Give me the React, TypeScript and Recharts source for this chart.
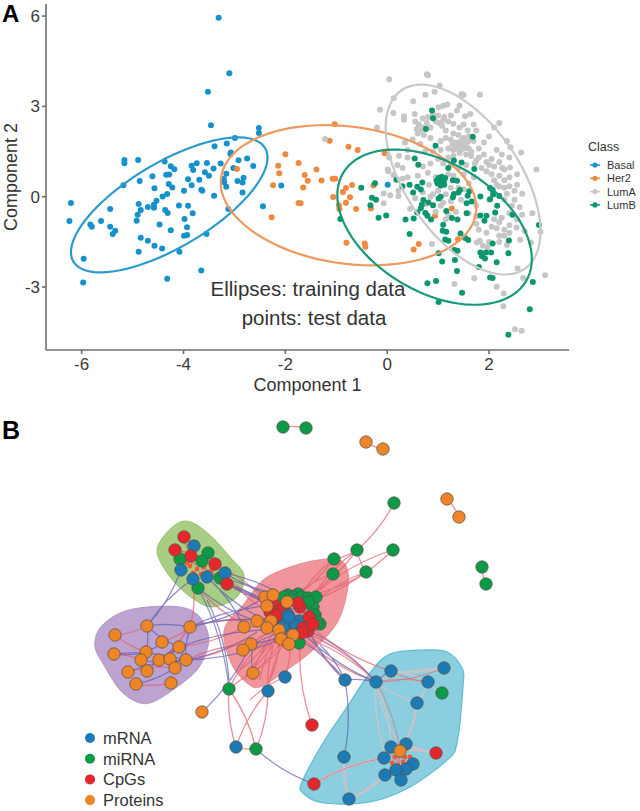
import React from 'react';
import { ScatterChart, Scatter, XAxis, YAxis } from 'recharts';

type P = number[];
const FONT = '"Liberation Sans", Arial, sans-serif';

const xTicks = [-6, -4, -2, 0, 2];
const yTicks = [-3, 0, 3, 6];
const classNames = ['Basal', 'Her2', 'LumA', 'LumB'];
const classColors = ['#1592cc', '#ee8a3f', '#c6c6c6', '#0b9670'];
const ellipseColors = ['#2a9bcd', '#ee9a5e', '#c9c9c9', '#17997a'];

const basal: P[] = [[-3.31,5.94],[-3.1,4.1],[-3.52,3.49],[-3.46,2.37],[-2.52,2.28],[-2.52,2.12],[-2.99,1.95],[-3.15,1.77],[-3.39,1.68],[-3.07,1.47],[-3.08,1.42],[-2.75,1.27],[-2.92,1.21],[-5.16,1.22],[-5.16,1.11],[-4.89,1.22],[-4.37,1.17],[-4.25,1.01],[-4.18,.91],[-3.84,1.03],[-3.81,.89],[-3.74,1.11],[-3.54,1.12],[-3.27,1.1],[-3.41,.94],[-3.58,.81],[-3.5,.7],[-3.69,.56],[-3.91,.58],[-3.84,.38],[-3.65,.23],[-3.63,.2],[-3.99,.2],[-2.63,1.02],[-3.02,.95],[-3.16,.76],[-3.21,.59],[-3.2,.48],[-3.16,.33],[-2.94,.52],[-2.82,.63],[-2.84,.47],[-2.84,.14],[-3.4,.03],[-2.08,.37],[-2.44,-.32],[-3.12,-.41],[-4.34,.73],[-4.28,.74],[-4.86,.52],[-5.18,.38],[-4.61,.68],[-4.57,.28],[-4.29,.42],[-4.22,.31],[-4.32,.09],[-4.41,.01],[-4.53,-.13],[-4.58,-.27],[-4.58,-.37],[-4.7,-.34],[-4.88,-.24],[-4.84,-.44],[-4.9,-.6],[-4.92,-.8],[-4.36,-.44],[-4.31,-.54],[-4.09,-.29],[-3.91,-.3],[-3.82,-.55],[-3.98,-.74],[-4.47,-.92],[-4.25,-1.11],[-3.93,-1.01],[-3.99,-1.3],[-3.93,-1.27],[-3.55,-1.24],[-4.84,-1.36],[-4.7,-1.46],[-4.57,-1.63],[-4.42,-1.72],[-4.88,-1.83],[-4.08,-1.83],[-5.96,-2.06],[-5.97,-2.85],[-4.32,-2.72],[-3.65,-2.45],[-6.21,-.21],[-6.24,-.81],[-5.44,-.41],[-5.62,-.81],[-5.83,-.92],[-5.8,-1],[-5.44,-1],[-5.34,-1.13],[-5.39,-1.24],[.01,.4]];
const her2: P[] = [[-2.95,.92],[-2.14,1.03],[-2,1.41],[-1.74,1.12],[-2.12,.78],[-2.24,.38],[-1.74,-.21],[-2.27,-.68],[-1.03,2.41],[-1.13,1.86],[-.76,1.66],[-.58,1.55],[-.05,1.44],[-1.39,.9],[-1.62,.72],[-1.56,.53],[-1.29,.54],[-1.07,.6],[-1.02,.6],[-1.65,.31],[-.69,.39],[-.81,.29],[-.87,.16],[-.27,.37],[-1.06,-.01],[-.73,-.02],[-.81,-.2],[-.95,-.28],[-.94,-.41],[-.61,-.41],[-.32,-.39],[-1.7,-.22],[1.27,-.39],[.94,-.63],[-.8,-1.53],[-.44,-1.55],[-.43,-1.66],[.62,-1.57],[.52,-1.75],[1.39,-1.41]];
const lumA: P[] = [[.78,4.07],[.8,4.03],[.04,3.9],[1.03,3.69],[.93,3.49],[.75,3.39],[1.46,3.41],[1.5,3.38],[1.82,3.39],[.13,3.27],[.51,3.17],[-.14,2.89],[.12,2.78],[.33,2.67],[.33,2.56],[.54,2.75],[1.01,2.97],[1.1,3.02],[1.18,3.06],[1.42,3.02],[1.37,2.86],[1.63,2.75],[1.53,2.67],[.7,2.6],[.62,2.4],[.58,2.25],[.6,2.1],[.72,2.05],[.85,2.3],[.95,2.5],[1.02,2.45],[1.08,2.35],[1.15,2.2],[1.2,2.5],[1.3,2.42],[1.42,2.3],[1.5,2.4],[1.58,2.2],[1.7,2.4],[1.75,2.2],[1.3,2.1],[1.4,2.05],[1.5,1.95],[1.45,1.85],[1.55,1.8],[1.35,1.8],[1.25,1.9],[1.15,1.95],[1.05,1.85],[.85,1.95],[.5,1.9],[.35,1.8],[.65,1.75],[.4,1.55],[.75,1.5],[.9,1.5],[1.05,1.55],[1.2,1.6],[1.3,1.55],[1.4,1.65],[1.5,1.6],[1.6,1.6],[1.42,1.45],[1.55,1.4],[1.65,1.5],[1.8,1.6],[1.9,1.8],[2,2],[2.1,2.3],[2.2,2.45],[2.35,1.85],[2.63,1.47],[2.42,1.64],[2.4,1.3],[2.25,1.4],[2.15,1.55],[2.05,1.25],[2,1.05],[1.95,.85],[2.05,.75],[1.9,1.4],[1.75,1.2],[1.85,.95],[1.7,.65],[1.55,1.05],[1.4,.95],[1,1.25],[.85,1.1],[.7,1],[.4,1.3],[.2,1.05],[.04,1.3],[.3,.95],[.02,.85],[.12,.72],[2.26,.95],[2.41,.97],[2.55,.75],[2.4,.65],[2.3,.55],[2.2,.7],[2.93,.9],[.95,.65],[.82,.4],[.7,.15],[.55,-.05],[-.07,.11],[-.07,-.22],[.22,.2],[.06,.05],[.22,.02],[1,.2],[.9,.08],[1.15,.08],[1.25,-.15],[1.45,-.1],[1.05,-.3],[.95,-.5],[1.15,-.75],[1.35,-.5],[1.75,-.3],[1.75,-.9],[2,-.1],[2.2,.35],[2.35,.1],[2.5,.2],[2.25,-.7],[2.4,-.55],[2.6,-.35],[2.1,-.75],[2.2,-.85],[2.3,-1.1],[2.15,-1.05],[2.05,-1],[1.8,-1.1],[1.95,-1.2],[2.3,-1.3],[2.4,-1.2],[2.54,-1.02],[2.7,-1.15],[2.85,-.55],[3.01,-1.16],[2.82,-1.52],[2.61,-1.43],[1.82,-1.46],[1.76,-1.52],[1.88,-1.63],[1.97,-1.68],[.88,-1.57],[1.71,-2.71],[1.32,-2.9],[2.15,-2.99],[2.29,-3.21],[2.28,-3.64],[2.56,-2.38],[2.67,-2.7],[3.1,-2.61],[2.51,-4.4],[2.64,-4.45],[-.2,2.3],[-1.22,1.92],[.23,1.36],[.01,.9],[1.42,1.75],[1.48,1.7],[1.38,1.7],[1.5,1.75],[1.35,1.6],[1.45,1.55],[1.28,1.75],[1.55,1.7],[1.6,1.85],[1.3,1.35],[1.2,1.3],[1.1,1.1],[1.25,1.05],[.55,2.5],[.8,2.65],[.9,2.75],[1,2.7],[1.12,2.65],[1.25,2.7],[1.1,2.55],[.65,2.2],[.72,2.3],[.78,2.45],[1.6,2],[1.7,1.85],[1.65,1.35],[1.72,1.1],[1.8,1.3],[1.95,1.15],[2.1,1],[2.2,1.15],[2.3,.9],[2.1,.55],[2.15,.4],[2.3,.3],[2.4,.35],[2.55,.4],[2.65,.1],[2.3,-.1],[2.5,-.1],[2.45,-.3],[2.65,-.6],[2.55,-.75],[2.4,-.95],[2.2,-1.3],[2.2,-1.5],[2.35,-1.6],[2,-1.5],[1.4,.3],[1.5,.25],[1.6,.45],[1.25,.3],[.8,.8],[.6,.7],[.4,.65],[.3,.6],[1.2,.75],[1.3,.7],[1.5,.75],[1.6,-.55],[1.75,-.65],[1.1,-.2],[1.2,-.6],[.85,0],[.75,-.25],[.45,-.4]];
const lumB: P[] = [[.88,2.86],[.9,2.61],[.76,2.25],[1.68,1.99],[.95,1.69],[.54,1.27],[.61,1.06],[1.31,1.2],[1.46,1.14],[1.2,.95],[1.71,.92],[1.01,.62],[1.07,.66],[1.14,.62],[.97,.53],[1.03,.48],[1.11,.51],[1.05,.37],[.99,.44],[1.12,.4],[1.29,.55],[1.37,.53],[-.24,.45],[-.51,.3],[.18,.56],[.3,.35],[.44,.4],[.59,.33],[.69,.47],[.66,.24],[.51,.14],[-.3,-.03],[-.22,-.1],[-.33,-.28],[-.17,-.7],[-.02,-.62],[-.92,-.74],[.36,-.76],[.52,-.72],[.71,-.11],[.68,-.27],[.66,-.38],[.59,-.52],[.81,-.19],[.9,-.28],[.75,-.54],[.79,-.63],[.86,-.76],[1.05,0],[1.01,-.06],[1.16,-.47],[1.29,-.02],[1.31,.09],[1.43,.22],[1.4,.14],[1.61,.18],[1.58,.03],[1.66,-.16],[1.56,-.22],[1.56,-.55],[1.27,-.71],[1.38,-.76],[1.83,.01],[2.02,.29],[2.07,.22],[2.2,.02],[2.02,-.08],[2.08,.07],[2.16,-.3],[2.12,-.52],[1.83,-.62],[1.95,-.63],[1.91,-.8],[2.46,-.6],[2.98,-.94],[1.1,-.93],[1.09,-1.13],[1.16,-1.16],[.44,-1.24],[1.44,-1.22],[1.14,-1.42],[1.2,-1.46],[1.53,-1.37],[1.59,-1.44],[1.32,-1.77],[1.38,-1.79],[1.01,-1.88],[1.08,-2.15],[1.33,-2.1],[2.07,-1.55],[2.39,-1.45],[1.83,-1.85],[1.86,-1.98],[1.94,-1.85],[2.04,-1.85],[1.92,-2.05],[2.38,-1.88],[2.15,-2.18],[1.8,-2.33],[1.37,-2.47],[2.02,-2.68],[2.07,-2.7],[.79,-2.87],[.96,-2.8],[1.47,-3.19],[1.01,-3.5],[2.86,-2.83],[2.8,-3.74],[2.38,-4.58]];

// each ellipse: centre, its rightmost point, and the point straight above its centre
const basalEllipse: P[] = [[-4.28,-.27],[-2.35,1.3],[-4.28,1.33]];
const her2Ellipse: P[] = [[-.76,.05],[1.75,-.37],[-.76,2.34]];
const lumAEllipse: P[] = [[1.49,.57],[3.01,-1.14],[1.49,3.22]];
const lumBEllipse: P[] = [[.93,-1.01],[2.84,-2.07],[.93,1.34]];

const moduleGreen: P[] = [[185,521],[197,525],[213,538],[230,557],[244,575],[237,597],[213,607],[195,600],[177,585],[162,565],[157,550],[163,537],[175,525]];
const modulePurple: P[] = [[147,607],[180,607],[198,615],[208,633],[207,650],[197,670],[177,687],[153,702],[137,702],[120,690],[105,667],[95,647],[100,628],[120,613]];
const moduleRed: P[] = [[318,560],[340,560],[348,572],[347,593],[337,623],[313,650],[287,670],[260,687],[247,683],[233,667],[224,640],[227,623],[243,605],[263,580],[290,567]];
const moduleBlue: P[] = [[390,654],[423,650],[447,652],[462,668],[463,687],[457,743],[447,760],[410,787],[370,802],[323,803],[303,793],[302,782],[323,743],[347,707],[370,673]];

const mrnaNodes: P[] = [[194,546],[181,570],[193,579],[207,577],[225,573],[288,615],[293,622],[287,621],[299,621],[292,627],[283,627],[289,617],[296,626],[285,677],[268,691],[345,680],[376,682],[391,671],[444,668],[428,682],[417,703],[236,747],[344,757],[349,799],[406,744],[391,747],[384,758],[413,764],[406,769],[396,770],[385,775],[401,780]];
const mirnaNodes: P[] = [[283,427],[306,428],[394,503],[357,550],[393,550],[334,559],[333,574],[366,572],[482,567],[486,584],[208,553],[180,559],[202,561],[220,578],[198,588],[288,595],[298,594],[293,597],[302,597],[308,598],[316,597],[313,607],[308,602],[315,615],[320,624],[299,643],[284,597],[292,600],[317,622],[229,689],[442,693],[256,749]];
const cpgUnderNodes: P[] = [[273,603],[278,612],[270,612],[280,620],[277,615],[284,607],[300,607]];
const cpgOverNodes: P[] = [[184,537],[175,550],[191,556],[215,564],[227,584],[298,603],[309,617],[308,631],[303,628],[313,624],[302,633],[312,725],[314,784],[436,753]];
const proteinNodes: P[] = [[366,442],[383,449],[447,499],[459,517],[147,626],[190,627],[115,635],[162,642],[179,647],[114,654],[146,652],[141,660],[159,660],[170,659],[186,660],[175,668],[147,671],[128,672],[136,684],[171,683],[265,597],[273,595],[267,606],[287,602],[257,621],[271,621],[244,627],[267,628],[279,630],[293,635],[281,639],[289,644],[251,644],[243,650],[253,673],[202,712],[400,751]];
const tinyNodes: P[] = [[190,566],[197,569],[204,567],[212,570],[193,573],[201,574],[209,572],[187,563],[395,757],[405,757],[392,763],[403,762],[410,757],[398,765]];

const pinkEdges: P[] = [[283,427,306,428],[366,442,383,449],[447,499,459,517],[482,567,486,584],[394,503,357,550],[357,550,310,600],[357,550,305,598],[393,550,320,590],[393,550,315,600],[334,559,300,596],[334,559,290,600],[333,574,295,595],[333,574,305,600],[366,572,318,600],[366,572,310,595],[357,550,366,572],[357,550,334,559],[229,689,236,747],[229,689,256,749],[268,691,236,747],[268,691,256,749],[285,677,250,700],[312,725,300,643],[236,747,256,749],[345,680,310,635],[376,682,312,635],[391,671,315,630],[376,682,320,640],[312,640,376,682],[305,640,376,682],[268,691,285,640],[285,677,290,645],[268,691,275,640],[253,673,285,635],[253,673,270,640],[253,673,295,630],[229,689,265,640],[229,689,280,635],[245,680,285,630],[240,670,275,630],[260,680,278,632],[270,680,280,635],[243,650,285,625],[243,650,290,630],[251,644,290,625],[244,627,280,620],[257,621,285,615],[227,584,265,600],[220,578,270,610],[225,573,265,610],[215,564,270,605],[198,588,245,625],[193,579,190,627],[115,635,147,626],[114,654,141,660],[115,635,146,652],[128,672,175,668],[136,684,171,683],[147,671,179,647],[159,660,190,627],[170,659,190,627],[186,660,245,640],[186,660,250,644],[179,647,244,627],[190,627,250,620],[162,642,190,627],[146,652,115,635],[184,537,191,556],[175,550,215,564],[194,546,207,577],[180,559,220,578],[202,561,193,579]];
const violetEdges: P[] = [[181,570,147,626],[193,579,147,626],[198,588,229,689],[202,712,251,644],[207,600,229,680],[227,584,300,610],[225,573,290,600],[220,578,285,605],[227,584,285,615],[225,573,280,595],[220,578,275,600],[207,577,265,620],[207,577,243,625],[198,588,267,625],[190,627,267,606],[190,627,265,597],[190,627,271,621],[186,660,281,639],[179,647,289,630],[186,660,257,632],[147,626,190,627],[147,626,179,647],[147,626,146,652],[114,654,146,652],[114,654,186,660],[141,660,186,660],[128,672,186,660],[136,684,175,668],[147,671,179,647],[159,660,179,647],[190,627,175,668],[190,627,186,660],[162,642,146,652],[251,644,295,630],[243,650,293,630],[251,644,289,632],[253,673,253,644],[345,680,300,640],[345,680,310,632],[345,680,320,645],[376,682,305,635],[376,682,312,632],[345,680,344,757],[376,682,345,680],[376,682,391,671],[256,749,314,784]];
const greyThickEdges: P[] = [[417,703,406,740],[406,744,436,753],[400,751,436,753],[384,758,314,784],[385,775,349,799],[344,757,349,799]];
const greyThinEdges: P[] = [[376,682,444,668],[391,671,444,668],[376,682,428,682],[376,682,417,703],[391,671,428,682],[376,682,384,750],[376,682,391,745],[376,682,400,745],[428,682,417,703],[428,682,442,693]];
const finePinkEdges: P[] = [[376,682,400,751],[391,671,428,682],[384,758,406,744],[385,775,413,764],[396,770,406,744],[391,747,401,780],[413,764,391,747],[400,751,396,770],[400,751,385,775],[400,751,406,769],[400,751,413,764],[400,751,401,780],[314,784,384,758],[376,682,444,668],[376,682,428,682]];

const legendB = [
  { name: 'mRNA', color: '#1c7ab5' },
  { name: 'miRNA', color: '#0c9a46' },
  { name: 'CpGs', color: '#e5262d' },
  { name: 'Proteins', color: '#ee8526' },
];

const toXY = (rows: P[]) => rows.map(([x, y]) => ({ x, y }));
const edgeXY = (rows: P[]) => rows.flatMap(([a, b, c, d]) => [{ x: a, y: b }, { x: c, y: d }]);

function closedPath(pts: { x: number; y: number }[]) {
  const n = pts.length;
  if (!n) return '';
  let d = `M${pts[0].x},${pts[0].y}`;
  for (let i = 0; i < n; i++) {
    const p0 = pts[(i - 1 + n) % n], p1 = pts[i], p2 = pts[(i + 1) % n], p3 = pts[(i + 2) % n];
    d += `C${p1.x + (p2.x - p0.x) / 6},${p1.y + (p2.y - p0.y) / 6} ${p2.x - (p3.x - p1.x) / 6},${p2.y - (p3.y - p1.y) / 6} ${p2.x},${p2.y}`;
  }
  return d + 'Z';
}

const blob = (fill: string, stroke: string, fillOpacity: number, width: number) => (props: any) => (
  <path d={closedPath(props.points || [])} fill={fill} fillOpacity={fillOpacity} stroke={stroke} strokeWidth={width} />
);

const ellipseLine = (stroke: string) => (props: any) => {
  const pts = props.points || [];
  if (pts.length < 3) return <g />;
  const [c, r, v] = pts;
  let d = '';
  for (let k = 0; k <= 90; k++) {
    const t = (k / 90) * 2 * Math.PI;
    const x = c.x + (r.x - c.x) * Math.cos(t) + (v.x - c.x) * Math.sin(t);
    const y = c.y + (r.y - c.y) * Math.cos(t) + (v.y - c.y) * Math.sin(t);
    d += `${k ? 'L' : 'M'}${x},${y}`;
  }
  return <path d={d + 'Z'} fill="none" stroke={stroke} strokeWidth={2.2} />;
};

const curves = (stroke: string, width: number, opacity: number) => (props: any) => {
  const pts = props.points || [];
  let d = '';
  for (let i = 0; i + 1 < pts.length; i += 2) {
    const a = pts[i], b = pts[i + 1];
    const sign = (i / 2) % 2 ? 1 : -1;
    const mx = (a.x + b.x) / 2 - (b.y - a.y) * 0.1 * sign;
    const my = (a.y + b.y) / 2 + (b.x - a.x) * 0.1 * sign;
    d += `M${a.x},${a.y}Q${mx},${my} ${b.x},${b.y}`;
  }
  return <path d={d} fill="none" stroke={stroke} strokeWidth={width} strokeOpacity={opacity} />;
};

const nothing = () => <g />;
const dot = (color: string, r: number) => (props: any) => <circle cx={props.cx} cy={props.cy} r={r} fill={color} />;
const node = (color: string, r: number) => (props: any) => (
  <circle cx={props.cx} cy={props.cy} r={r} fill={color} stroke="#55504a" strokeOpacity={0.75} strokeWidth={1} />
);

const textStyle = { fontFamily: FONT, fill: '#333333' };

export default function App() {
  const pointSets = [basal, her2, lumA, lumB];
  const ellipses = [basalEllipse, her2Ellipse, lumAEllipse, lumBEllipse];
  const axisTick = { fontFamily: FONT, fontSize: 17, fill: '#3a3a3a' };
  const axisLine = { stroke: '#6e6e6e', strokeWidth: 1.6 };
  return (
    <div style={{ position: 'absolute', left: 0, top: 0, width: 640, height: 811, background: '#fff', overflow: 'hidden' }}>
      <div style={{ position: 'absolute', left: 0, top: 0 }}>
        <ScatterChart width={640} height={400} margin={{ top: 4, right: 71, bottom: 0, left: 0 }}>
          <XAxis type="number" dataKey="x" domain={[-6.7, 3.57]} ticks={xTicks} height={50} tick={axisTick} tickSize={4}
            tickMargin={4} axisLine={axisLine} tickLine={axisLine}
            label={{ value: 'Component 1', position: 'insideBottom', offset: 9, style: { fontFamily: FONT, fontSize: 18, fill: '#333' } }} />
          <YAxis type="number" dataKey="y" domain={[-5.09, 6.4]} ticks={yTicks} width={46} tick={axisTick} tickSize={4}
            tickMargin={2} axisLine={axisLine} tickLine={axisLine}
            label={{ value: 'Component 2', angle: -90, position: 'insideLeft', offset: 11, style: { fontFamily: FONT, fontSize: 18, fill: '#333', textAnchor: 'middle' } }} />
          {pointSets.map((set, i) => (
            <Scatter key={classNames[i]} name={classNames[i]} data={toXY(set)} isAnimationActive={false} shape={dot(classColors[i], 3)} />
          ))}
          {ellipses.map((set, i) => (
            <Scatter key={classNames[i] + ' ellipse'} data={toXY(set)} isAnimationActive={false} shape={nothing}
              line={ellipseLine(ellipseColors[i])} />
          ))}
          <text x={308} y={296} textAnchor="middle" fontSize={20.5} style={textStyle}>Ellipses: training data</text>
          <text x={314} y={325} textAnchor="middle" fontSize={20.5} style={textStyle}>points: test data</text>
          <text x={2} y={22} fontSize={24} fontWeight="bold" style={{ fontFamily: FONT, fill: '#000' }}>A</text>
          <text x={588} y={151} fontSize={12.5} style={textStyle}>Class</text>
          {classNames.map((name, i) => (
            <g key={name}>
              <line x1={590} x2={600} y1={165 + i * 13.3} y2={165 + i * 13.3} stroke={classColors[i]} strokeWidth={1.5} />
              <circle cx={595} cy={165 + i * 13.3} r={2.6} fill={classColors[i]} />
              <text x={607} y={169 + i * 13.3} fontSize={11} style={textStyle}>{name}</text>
            </g>
          ))}
        </ScatterChart>
      </div>
      <div style={{ position: 'absolute', left: 0, top: 400 }}>
        <ScatterChart width={640} height={411} margin={{ top: 0, right: 0, bottom: 0, left: 0 }}>
          <XAxis type="number" dataKey="x" domain={[0, 640]} hide />
          <YAxis type="number" dataKey="y" domain={[400, 811]} reversed hide />
          <Scatter data={toXY(moduleGreen)} isAnimationActive={false} shape={nothing} line={blob('#a2cb7c', '#8cba60', 0.95, 0.8)} />
          <Scatter data={toXY(modulePurple)} isAnimationActive={false} shape={nothing} line={blob('#b99fcd', '#a88cc0', 0.95, 0.8)} />
          <Scatter data={toXY(moduleRed)} isAnimationActive={false} shape={nothing} line={blob('#ee8f96', '#e77f88', 0.95, 0.8)} />
          <Scatter data={toXY(moduleBlue)} isAnimationActive={false} shape={nothing} line={blob('#84cbdd', '#5fbcd3', 0.95, 1.2)} />
          <Scatter data={edgeXY(greyThickEdges)} isAnimationActive={false} shape={nothing} line={curves('#c9c2c6', 2.6, 1)} />
          <Scatter data={edgeXY(greyThinEdges)} isAnimationActive={false} shape={nothing} line={curves('#cbc4c8', 1.4, 1)} />
          <Scatter data={edgeXY(pinkEdges)} isAnimationActive={false} shape={nothing} line={curves('#e4606e', 1.3, 0.7)} />
          <Scatter data={edgeXY(violetEdges)} isAnimationActive={false} shape={nothing} line={curves('#5c5cb4', 1.2, 0.7)} />
          <Scatter data={edgeXY(finePinkEdges)} isAnimationActive={false} shape={nothing} line={curves('#e8606c', 0.8, 0.8)} />
          <Scatter data={toXY(tinyNodes)} isAnimationActive={false} shape={dot('#ee5a3a', 2.4)} />
          <Scatter name="miRNA" data={toXY(mirnaNodes)} isAnimationActive={false} shape={node('#0c9a46', 6.2)} />
          <Scatter name="CpGs" data={toXY(cpgUnderNodes)} isAnimationActive={false} shape={node('#e5262d', 6.2)} />
          <Scatter name="mRNA" data={toXY(mrnaNodes)} isAnimationActive={false} shape={node('#1c7ab5', 6.2)} />
          <Scatter name="CpGs" data={toXY(cpgOverNodes)} isAnimationActive={false} shape={node('#e5262d', 6.2)} />
          <Scatter name="Proteins" data={toXY(proteinNodes)} isAnimationActive={false} shape={node('#ee8526', 6.2)} />
          <text x={2} y={39} fontSize={25} fontWeight="bold" style={{ fontFamily: FONT, fill: '#000' }}>B</text>
          {legendB.map((item, i) => (
            <g key={item.name}>
              <circle cx={90} cy={338 + i * 20.7} r={5} fill={item.color} />
              <text x={103} y={344 + i * 20.7} fontSize={16.5} style={textStyle}>{item.name}</text>
            </g>
          ))}
        </ScatterChart>
      </div>
    </div>
  );
}
